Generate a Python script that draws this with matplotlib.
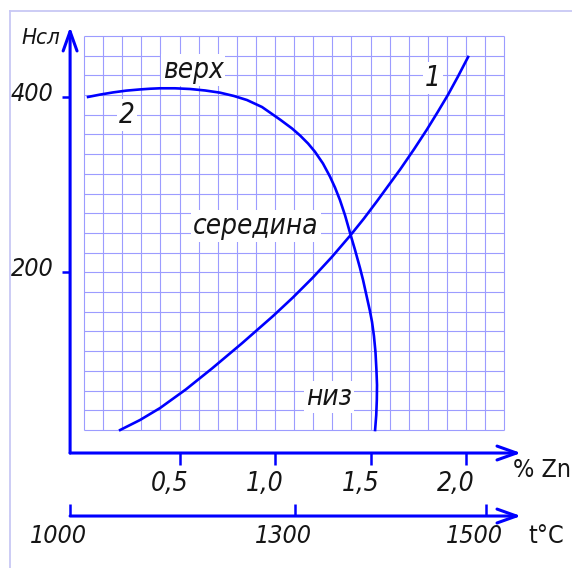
import numpy as np
import matplotlib.pyplot as plt
from matplotlib.lines import Line2D
from matplotlib.transforms import ScaledTranslation

# Кривая 1 (рост)
zn_1 = [0.189, 0.293, 0.398, 0.534, 0.670, 0.827, 0.990, 1.094, 1.199, 1.298,
        1.396, 1.466, 1.534, 1.655, 1.728, 1.796, 1.853, 1.906, 1.958, 2.011]
h_1 = [19.1, 30.5, 44.2, 65.6, 89.4, 118.2, 149.4, 170.6, 193.5, 216.9,
       241.9, 260.9, 280.6, 316.8, 340.0, 362.7, 382.9, 402.3, 423.1, 445.4]

# Кривая 2 (верх -> низ)
zn_2 = [0.021, 0.084, 0.152, 0.220, 0.293, 0.346, 0.398, 0.476, 0.555, 0.634,
        0.712, 0.785, 0.853, 0.932, 1.026, 1.089, 1.131, 1.173, 1.209, 1.251,
        1.288, 1.314, 1.340, 1.367, 1.396, 1.419, 1.445, 1.461, 1.476, 1.497,
        1.508, 1.518, 1.526, 1.531, 1.534, 1.533, 1.530, 1.524]
h_2 = [399.7, 402.4, 404.9, 406.9, 408.3, 409.1, 409.6, 409.6, 408.8, 407.1,
       404.6, 400.8, 396.2, 388.2, 373.9, 363.7, 355.7, 346.5, 337.1, 323.7,
       308.6, 296.2, 281.9, 264.2, 241.9, 224.8, 204.2, 190.5, 175.7, 155.1,
       142.5, 126.5, 108.2, 87.7, 70.5, 53.4, 36.2, 19.1]

# Деления осей
h_ticks = [200, 400]
zn_ticks = [0.5, 1.0, 1.5, 2.0]
zn_labels = ['0,5', '1,0', '1,5', '2,0']
t_labels = ['1000', '1300', '1500']
t_scale_zn = [-0.073, 1.105, 2.105]  # где стоят температуры на шкале Zn

AX_BLUE = '#0000ff'
GRID_BLUE = '#9c9cff'
TEXT = '#151515'
FONT = dict(family='DejaVu Sans', style='italic', stretch='condensed', color=TEXT)

fig = plt.figure(figsize=(5.72, 5.68), dpi=100)
ax = fig.add_axes([0, 0, 1, 1])
ax.set_xlim(-0.44, 2.555)
ax.set_ylim(-138.6, 510.5)
ax.patch.set_visible(False)

# рамка листа
fig.add_artist(Line2D([10 / 572, 1], [1 - 11 / 568, 1 - 11 / 568], color='#c8c8f5', lw=1.3))
fig.add_artist(Line2D([10 / 572, 10 / 572], [0, 1 - 11 / 568], color='#c8c8f5', lw=1.3))

# сетка (миллиметровка)
gx = np.arange(0, 2.21, 0.1)
gy = np.linspace(19.1, 469.4, 21)
ax.vlines(gx, gy[0], gy[-1], color=GRID_BLUE, lw=0.8, zorder=1)
ax.hlines(gy, gx[0], gx[-1], color=GRID_BLUE, lw=0.8, zorder=1)

# кривые
ax.plot(zn_1, h_1, color=AX_BLUE, lw=1.9, zorder=3, solid_joinstyle='round')
ax.plot(zn_2, h_2, color=AX_BLUE, lw=1.9, zorder=3, solid_joinstyle='round')

# оси со стрелками
y0_axis = -0.073
x0_axis = -7.2
t_axis = -79.2
arrow = dict(arrowstyle='->,head_length=1.4,head_width=0.5', lw=2.2, color=AX_BLUE,
             shrinkA=0, shrinkB=0, mutation_scale=10)
ax.annotate('', xy=(y0_axis, 479.7), xytext=(y0_axis, x0_axis), arrowprops=arrow)
ax.annotate('', xy=(2.288, x0_axis), xytext=(y0_axis, x0_axis), arrowprops=arrow)
ax.annotate('', xy=(2.288, t_axis), xytext=(y0_axis, t_axis), arrowprops=arrow)

for s in ['top', 'right']:
    ax.spines[s].set_visible(False)
ax.spines['left'].set_position(('data', y0_axis))
ax.spines['bottom'].set_position(('data', x0_axis))
ax.spines['left'].set_visible(False)
ax.spines['bottom'].set_visible(False)

ax.set_yticks(h_ticks, labels=[str(v) for v in h_ticks])
ax.set_xticks(zn_ticks, labels=zn_labels)
ax.tick_params(axis='y', direction='out', length=5.8, width=1.8, color=AX_BLUE, pad=6)
ax.tick_params(axis='x', direction='out', length=8.6, width=1.8, color=AX_BLUE, pad=4)
for lab in ax.get_yticklabels():
    lab.set(fontsize=18, **FONT)
    lab.set_transform(lab.get_transform() + ScaledTranslation(0, 0.05, fig.dpi_scale_trans))
for lab in ax.get_xticklabels():
    lab.set(fontsize=19, **FONT)
    lab.set_transform(lab.get_transform() + ScaledTranslation(-0.1, 0, fig.dpi_scale_trans))

# шкала температур
ax_t = ax.twiny()
ax_t.set_xlim(ax.get_xlim())
ax_t.patch.set_visible(False)
for s in ax_t.spines.values():
    s.set_visible(False)
ax_t.spines['bottom'].set_position(('data', t_axis))
ax_t.xaxis.set_ticks_position('bottom')
ax_t.xaxis.set_label_position('bottom')
ax_t.set_xticks(t_scale_zn, labels=t_labels)
ax_t.tick_params(axis='x', direction='in', length=8.6, width=1.8, color=AX_BLUE, pad=6)
for lab in ax_t.get_xticklabels():
    lab.set(fontsize=18, **FONT)
    lab.set_transform(lab.get_transform() + ScaledTranslation(-0.12, 0, fig.dpi_scale_trans))

# подписи
box = dict(facecolor='white', edgecolor='none', pad=1.5)
ax.text(-0.225, 467, 'Нсл', fontsize=16, ha='center', va='center', **FONT)
ax.text(0.571, 430.5, 'верх', fontsize=20, ha='center', va='center', bbox=box, zorder=4, **FONT)
ax.text(0.225, 379, '2', fontsize=20, ha='center', va='center', bbox=box, zorder=4, **FONT)
ax.text(1.827, 421, '1', fontsize=20, ha='center', va='center', bbox=box, zorder=4, **FONT)
ax.text(0.90, 252, 'середина', fontsize=20, ha='center', va='center', bbox=box, zorder=4, **FONT)
ax.text(1.283, 57, 'низ', fontsize=20, ha='center', va='center', bbox=box, zorder=4, **FONT)
ax.text(2.246, -26.6, '% Zn', fontsize=18, ha='left', va='center',
        family='DejaVu Sans', stretch='condensed', color=TEXT)
ax.text(2.325, -102, 't°C', fontsize=18, ha='left', va='center',
        family='DejaVu Sans', stretch='condensed', color=TEXT)

fig.savefig('out.png', dpi=100)
